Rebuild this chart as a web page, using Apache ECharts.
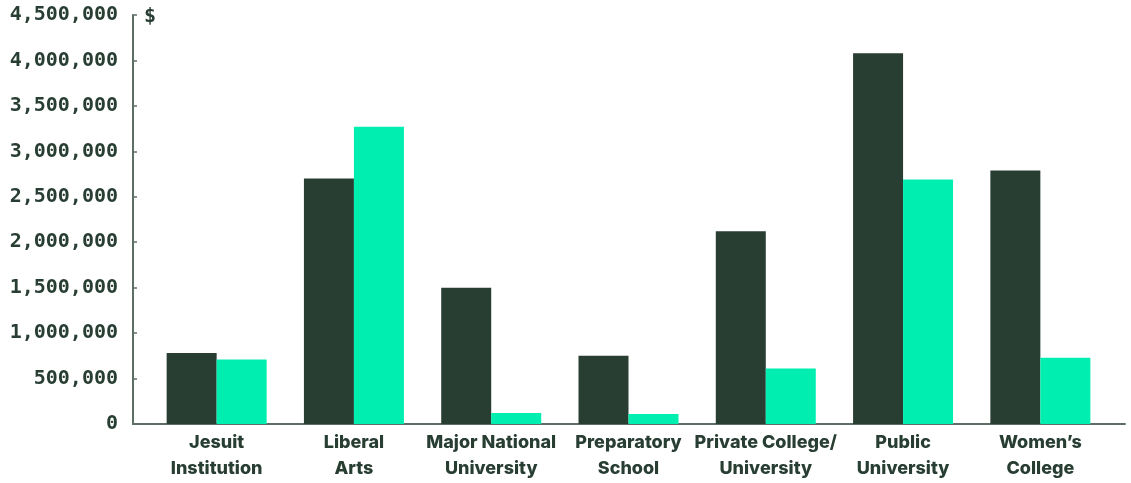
<!DOCTYPE html>
<html><head><meta charset="utf-8">
<script src="https://cdn.jsdelivr.net/npm/echarts@6/dist/echarts.min.js"></script>
<style>html,body{margin:0;padding:0;background:#fff}#c{width:1131px;height:483px}</style>
</head><body><div id="c"></div>
<script>
const categories = ["Jesuit\nInstitution","Liberal\nArts","Major National\nUniversity","Preparatory\nSchool","Private College/\nUniversity","Public\nUniversity","Women’s\nCollege"];
const seriesA = [780000, 2700000, 1500000, 750000, 2120000, 4080000, 2790000];
const seriesB = [710000, 3270000, 120000, 110000, 610000, 2690000, 730000];
const yTicks = {min: 0, max: 4500000, interval: 500000};
const unitLabel = "$";

const dark = '#283e33', mint = '#00efb1', axisCol = '#5d6f65';
const chart = echarts.init(document.getElementById('c'));
chart.setOption({
  animation: false,
  grid: [
    {left: 133, right: 6, top: 15, bottom: 59},
    {left: 148, right: 22, top: 15, bottom: 59}
  ],
  xAxis: [
    {gridIndex: 0, type: 'value', min: 0, max: 1,
     axisLine: {show: true, onZero: false, lineStyle: {color: axisCol, width: 2}},
     axisTick: {show: false}, axisLabel: {show: false}, splitLine: {show: false}},
    {gridIndex: 1, type: 'category', data: categories,
     axisLine: {show: false}, axisTick: {show: false},
     axisLabel: {color: dark, fontFamily: 'Inter', fontWeight: 800, fontSize: 18, lineHeight: 26.5, margin: 5, interval: 0}}
  ],
  yAxis: [
    {gridIndex: 0, type: 'value', min: yTicks.min, max: yTicks.max, interval: yTicks.interval,
     axisLine: {show: true, lineStyle: {color: axisCol, width: 2}},
     axisTick: {show: true, inside: true, length: 4, lineStyle: {color: axisCol, width: 1.5}},
     splitLine: {show: false},
     axisLabel: {color: dark, fontFamily: 'DejaVu Sans Mono', fontWeight: 'bold', fontSize: 20, margin: 15,
       formatter: v => v.toLocaleString('en-US')}},
    {gridIndex: 1, type: 'value', min: yTicks.min, max: yTicks.max, interval: yTicks.interval, show: false}
  ],
  series: [
    {type: 'bar', xAxisIndex: 1, yAxisIndex: 1, data: seriesA, barWidth: 50, barGap: '0%', itemStyle: {color: dark}},
    {type: 'bar', xAxisIndex: 1, yAxisIndex: 1, data: seriesB, barWidth: 50, barGap: '0%', itemStyle: {color: mint}}
  ],
  graphic: [{type: 'text', left: 144, top: 7, style: {text: unitLabel, fill: dark, font: 'bold 20px "DejaVu Sans Mono"'}}]
});
</script></body></html>
